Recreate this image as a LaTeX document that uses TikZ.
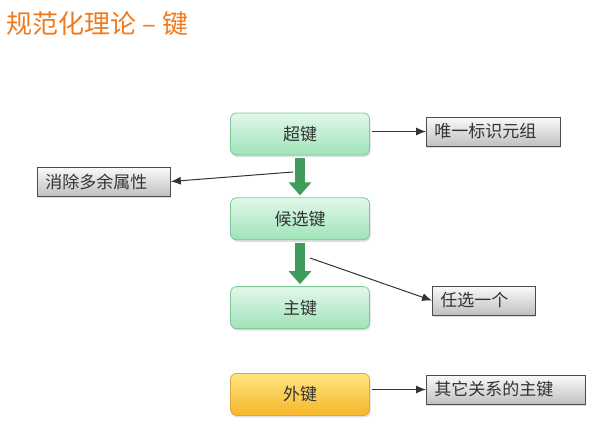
\documentclass[tikz,border=0pt]{standalone}
\usepackage{fontspec}
\setmainfont{Noto Sans CJK SC}
\usetikzlibrary{arrows.meta,positioning,shadows}

\definecolor{titleorange}{HTML}{F07A1E}
\definecolor{keytop}{HTML}{E2F8EA}
\definecolor{keybottom}{HTML}{9FE3B8}
\definecolor{keyborder}{HTML}{80C69A}
\definecolor{fktop}{HTML}{FFE680}
\definecolor{fkbottom}{HTML}{F6B62A}
\definecolor{fkborder}{HTML}{E0A43A}
\definecolor{notetop}{HTML}{FAFAFA}
\definecolor{notebottom}{HTML}{C0C0C0}
\definecolor{flowgreen}{HTML}{3E9C5C}
\definecolor{textgray}{HTML}{333333}

\begin{document}
\begin{tikzpicture}[x=1pt, y=-1pt, thick, font=\fontsize{17}{20}\selectfont, text=textgray]
        \tikzstyle{key} = [rectangle, draw=keyborder, top color=keytop, bottom color=keybottom, minimum width=139pt, minimum height=42pt, rounded corners=6pt, drop shadow={shadow xshift=1pt, shadow yshift=-2pt, opacity=0.25}]
        \tikzstyle{note} = [rectangle, draw=gray!60!black, top color=notetop, bottom color=notebottom, minimum height=29pt, inner xsep=8pt, align=left, anchor=west, drop shadow={shadow xshift=1pt, shadow yshift=-2pt, opacity=0.25}]
        \tikzstyle{line} = [draw, textgray, line width=1pt, -{Latex[length=10pt,width=8pt]}]
        \tikzstyle{flow} = [draw=flowgreen, line width=10pt, -{Triangle[length=13pt,width=22pt]}, shorten <=3pt, shorten >=2pt]

        \useasboundingbox (0,0) rectangle (610,436);

        \node [anchor=west, text=titleorange, font=\fontsize{26}{30}\selectfont] (title) at (3,24) {规范化理论 – 键};

        \node [key] (sk) at (300,134) {超键};
        \node [key, below=42pt of sk] (ck) {候选键};
        \node [key, below=46pt of ck] (pk) {主键};
        \node [key, draw=fkborder, top color=fktop, bottom color=fkbottom, below=44pt of pk] (fk) {外键};

        \node [note, text width=118pt] (uid) at (426,131.5) {唯一标识元组};
        \node [note, text width=117pt] (rm) at (37,181.5) {消除多余属性};
        \node [note, text width=87pt] (any) at (432,300.5) {任选一个};
        \node [note, text width=143pt] (oth) at (426,389.5) {其它关系的主键};

        \coordinate (rmfrom) at (293,172);
        \coordinate (anyfrom) at (310,258);

        \path [flow] (sk) -- (ck);
        \path [flow] (ck) -- (pk);

        \path [line] ([xshift=2pt]sk.east |- uid.west) -- (uid.west);
        \path [line] (rmfrom) -- (rm.east);
        \path [line] (anyfrom) -- (any.west);
        \path [line] ([xshift=2pt]fk.east |- oth.west) -- (oth.west);
    \end{tikzpicture}
\end{document}
